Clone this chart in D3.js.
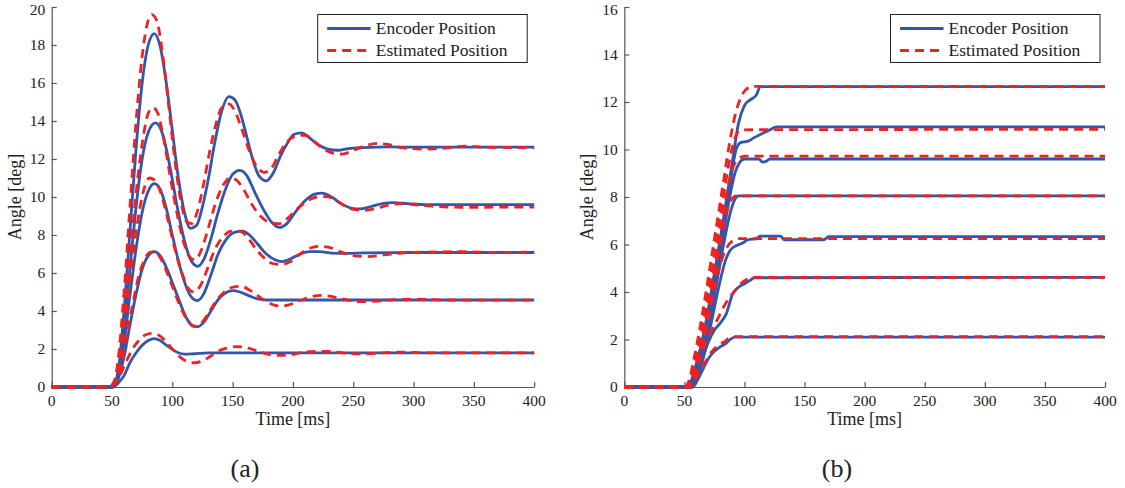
<!DOCTYPE html>
<html><head><meta charset="utf-8">
<script src="https://cdn.jsdelivr.net/npm/d3@7"></script>
<style>body{margin:0;background:#fff}svg{display:block}</style>
</head><body><svg id="c" width="1125" height="488" font-family="'Liberation Serif','Times New Roman','DejaVu Serif',serif"></svg>
<script>
// ---------- DATA (time in ms, angle in deg) ----------
const legendLabels = ["Encoder Position", "Estimated Position"];
const panelLabels = ["(a)", "(b)"];
const xTicks = [0,50,100,150,200,250,300,350,400];
const yTicksA = [0,2,4,6,8,10,12,14,16,18,20];
const yTicksB = [0,2,4,6,8,10,12,14,16];

// Panel (a) encoder
const encA1 = [[0,0],[50,0],[55,0.8],[60,4.0],[65,8.3],[70,12.6],[75,16.0],[80,18.0],[85,18.6],[90,17.9],[95,16.0],[100,13.5],[105,11.0],[110,9.2],[115,8.35],[120,8.5],[125,9.5],[130,11.0],[135,12.8],[140,14.3],[147,15.28],[152,15.1],[157,14.3],[162,13.1],[167,11.9],[172,11.1],[178,10.85],[184,11.3],[190,12.2],[196,12.9],[201,13.3],[207,13.38],[214,13.1],[221,12.75],[229,12.52],[237,12.46],[246,12.55],[258,12.6],[280,12.64],[300,12.62],[400,12.62]];
const encA2 = [[0,0],[50,0],[55,0.6],[60,3.0],[65,6.3],[70,9.5],[75,12.0],[80,13.4],[86,13.9],[92,13.3],[98,11.6],[104,9.5],[110,7.7],[116,6.6],[121,6.35],[126,6.7],[132,7.8],[138,9.2],[144,10.4],[150,11.2],[156,11.4],[162,11.1],[168,10.3],[175,9.4],[182,8.7],[189,8.4],[195,8.6],[202,9.2],[210,9.8],[218,10.15],[224,10.2],[232,10.0],[240,9.65],[248,9.42],[255,9.37],[265,9.5],[275,9.67],[283,9.7],[295,9.65],[310,9.6],[400,9.6]];
const encA3 = [[0,0],[50,0],[55,0.5],[60,2.3],[65,4.9],[70,7.3],[75,9.2],[80,10.3],[85,10.7],[90,10.4],[95,9.4],[100,8.0],[106,6.4],[112,5.2],[117,4.65],[121,4.55],[126,4.9],[132,5.9],[138,7.0],[145,7.8],[152,8.15],[158,8.2],[164,8.0],[171,7.5],[178,7.0],[185,6.7],[191,6.6],[198,6.75],[206,7.0],[214,7.12],[222,7.12],[232,7.05],[245,7.03],[260,7.06],[300,7.08],[400,7.08]];
const encA4 = [[0,0],[50,0],[55,0.4],[60,1.6],[65,3.3],[70,4.9],[75,6.2],[80,6.9],[85,7.12],[90,6.9],[95,6.3],[100,5.5],[106,4.5],[112,3.6],[117,3.2],[121,3.17],[126,3.4],[132,4.0],[138,4.6],[144,4.95],[150,5.07],[156,5.0],[163,4.82],[170,4.65],[178,4.58],[400,4.58]];
const encA5 = [[0,0],[51,0],[55,0.2],[60,0.6],[65,1.3],[70,1.8],[75,2.2],[80,2.45],[85,2.55],[90,2.45],[95,2.2],[100,1.98],[105,1.8],[110,1.73],[118,1.75],[130,1.8],[400,1.8]];
// Panel (a) estimated
const estA1 = [[0,0],[48,0],[52,0.3],[55,1.4],[60,5.0],[65,9.6],[70,14.0],[75,17.4],[80,19.3],[83,19.6],[87,19.3],[92,17.5],[97,14.8],[102,12.0],[107,9.8],[112,8.7],[116,8.6],[121,9.3],[126,10.7],[131,12.4],[136,13.8],[141,14.7],[147,14.9],[152,14.5],[158,13.5],[164,12.4],[170,11.6],[176,11.3],[182,11.5],[188,12.2],[195,12.9],[202,13.2],[210,13.25],[218,12.9],[226,12.5],[234,12.3],[241,12.26],[250,12.45],[260,12.7],[270,12.82],[280,12.75],[292,12.58],[310,12.52],[330,12.6],[342,12.68],[360,12.62],[400,12.6]];
const estA2 = [[0,0],[48,0],[52,0.3],[56,1.5],[61,4.3],[66,7.6],[71,10.8],[76,13.2],[80,14.4],[84,14.7],[88,14.4],[93,13.0],[99,10.8],[105,8.8],[110,7.5],[115,6.8],[119,6.7],[124,7.2],[130,8.4],[136,9.7],[142,10.6],[148,11.0],[153,10.9],[159,10.4],[166,9.6],[173,9.0],[181,8.65],[189,8.6],[196,8.9],[204,9.4],[212,9.8],[220,10.0],[228,10.02],[236,9.8],[244,9.5],[252,9.33],[260,9.3],[270,9.42],[280,9.58],[290,9.65],[300,9.6],[315,9.52],[340,9.46],[400,9.47]];
const estA3 = [[0,0],[48,0],[52,0.3],[56,1.3],[61,3.6],[66,6.2],[71,8.6],[76,10.3],[81,11.0],[85,10.9],[90,10.3],[96,8.9],[102,7.3],[108,6.0],[113,5.2],[118,5.0],[123,5.3],[129,6.2],[135,7.2],[142,7.9],[149,8.2],[156,8.2],[162,7.9],[169,7.3],[176,6.8],[183,6.5],[191,6.45],[198,6.6],[206,7.0],[214,7.3],[222,7.4],[230,7.35],[240,7.1],[250,6.92],[262,6.86],[275,6.95],[290,7.05],[310,7.1],[340,7.12],[370,7.08],[400,7.1]];
const estA4 = [[0,0],[48,0],[52,0.2],[57,1.0],[62,2.6],[67,4.3],[72,5.8],[77,6.7],[82,7.1],[86,7.1],[91,6.7],[97,5.8],[103,4.8],[109,3.9],[114,3.4],[119,3.2],[124,3.35],[130,3.9],[136,4.5],[143,5.0],[150,5.25],[157,5.3],[164,5.1],[171,4.8],[178,4.5],[185,4.3],[191,4.26],[198,4.35],[206,4.55],[215,4.75],[225,4.82],[235,4.72],[245,4.58],[256,4.49],[270,4.52],[285,4.6],[300,4.62],[330,4.58],[400,4.57]];
const estA5 = [[0,0],[48,0],[53,0.2],[58,0.8],[63,1.5],[68,2.1],[73,2.5],[78,2.75],[83,2.82],[88,2.75],[94,2.45],[100,2.0],[106,1.6],[112,1.35],[118,1.27],[124,1.35],[130,1.55],[137,1.85],[145,2.05],[153,2.12],[161,2.08],[170,1.9],[180,1.72],[189,1.67],[198,1.7],[208,1.82],[220,1.88],[230,1.88],[245,1.77],[260,1.74],[275,1.8],[290,1.84],[310,1.8],[400,1.8]];

// Panel (b) encoder
const encB1 = [[0,0],[52,0],[56,0.3],[60,1.0],[65,2.0],[70,3.3],[75,4.8],[80,6.3],[85,7.9],[90,9.5],[95,11.1],[100,11.85],[105,12.1],[110,12.3],[113,12.65],[400,12.65]];
const encB2 = [[0,0],[53,0],[57,0.3],[61,1.0],[66,2.0],[71,3.3],[76,4.8],[81,6.3],[86,7.9],[90,9.2],[93,10.0],[97,10.3],[103,10.35],[108,10.5],[114,10.65],[120,10.8],[127,10.95],[400,10.95]];
const encB3 = [[0,0],[54,0],[58,0.3],[62,1.0],[67,2.0],[72,3.3],[77,4.8],[82,6.3],[87,7.8],[92,9.0],[96,9.45],[100,9.6],[112,9.6],[115,9.47],[118,9.5],[121,9.6],[400,9.6]];
const encB4 = [[0,0],[55,0],[59,0.3],[63,1.0],[68,2.0],[73,3.3],[78,4.7],[83,6.1],[88,7.3],[92,7.9],[95,8.05],[400,8.05]];
const encB5 = [[0,0],[56,0],[60,0.3],[64,0.9],[69,1.9],[74,3.1],[79,4.3],[84,5.3],[88,5.75],[93,5.95],[98,6.05],[103,6.2],[110,6.25],[113,6.35],[130,6.35],[133,6.2],[166,6.2],[170,6.33],[400,6.33]];
const encB6 = [[0,0],[57,0],[60,0.4],[65,1.2],[70,1.9],[75,2.4],[80,2.7],[85,3.1],[90,3.9],[95,4.2],[100,4.35],[105,4.5],[108,4.6],[400,4.62]];
const encB7 = [[0,0],[57,0],[61,0.3],[65,0.7],[70,1.2],[75,1.5],[80,1.7],[85,1.85],[88,2.0],[92,2.1],[400,2.1]];
// Panel (b) estimated
const estB1 = [[0,0],[50,0],[54,0.3],[58,1.2],[63,2.5],[68,4.0],[73,5.6],[78,7.2],[83,8.8],[88,10.4],[93,11.6],[98,12.3],[103,12.6],[106,12.66],[400,12.66]];
const estB2 = [[0,0],[51,0],[55,0.3],[59,1.1],[64,2.3],[69,3.7],[74,5.3],[79,6.9],[84,8.5],[89,9.9],[93,10.6],[97,10.83],[400,10.85]];
const estB3 = [[0,0],[52,0],[56,0.3],[60,1.0],[65,2.2],[70,3.6],[75,5.1],[80,6.6],[85,8.1],[90,9.2],[95,9.6],[100,9.72],[400,9.72]];
const estB4 = [[0,0],[53,0],[57,0.3],[61,1.0],[66,2.2],[71,3.6],[76,5.0],[81,6.4],[86,7.5],[90,7.95],[93,8.05],[400,8.05]];
const estB5 = [[0,0],[54,0],[58,0.3],[62,1.0],[67,2.1],[72,3.4],[77,4.6],[82,5.5],[87,6.0],[92,6.2],[96,6.25],[400,6.25]];
const estB6 = [[0,0],[53,0],[58,0.5],[63,1.2],[68,1.9],[73,2.4],[78,2.9],[83,3.4],[88,3.8],[93,4.1],[98,4.4],[103,4.55],[108,4.62],[400,4.62]];
const estB7 = [[0,0],[55,0],[59,0.3],[63,0.7],[68,1.1],[73,1.5],[78,1.75],[83,1.9],[87,2.05],[90,2.12],[400,2.12]];

// ---------- DRAW ----------
const BLUE = "#3355aa", RED = "#ee2222", AX = "#555", FONT = "'Liberation Serif','Times New Roman','DejaVu Serif',serif";
const svg = d3.select("#c");

function panel(cfg){
  const x = d3.scaleLinear().domain([0,400]).range([cfg.x0, cfg.x1]);
  const y = d3.scaleLinear().domain([0,cfg.ymax]).range([cfg.y0, cfg.y1]);
  const g = svg.append("g").attr("font-family",FONT);
  const xa = g.append("g").attr("transform",`translate(0,${cfg.y0})`)
    .call(d3.axisTop(x).tickValues(xTicks).tickSize(5).tickSizeOuter(0).tickFormat(""));
  const ya = g.append("g").attr("transform",`translate(${cfg.x0},0)`)
    .call(d3.axisRight(y).tickValues(cfg.yTicks).tickSize(5).tickSizeOuter(0).tickFormat(""));
  [xa,ya].forEach(a=>{a.selectAll("path,line").attr("stroke",AX).attr("stroke-width",1.2);});
  const T = (sel)=>sel.attr("font-family",FONT).attr("fill","#222");
  T(g.selectAll(".xl").data(xTicks).join("text").attr("x",d=>x(d)).attr("y",cfg.y0+19)
    .attr("text-anchor","middle").attr("font-size",15.5).text(d=>d));
  T(g.selectAll(".yl").data(cfg.yTicks).join("text").attr("x",cfg.x0-6.5).attr("y",d=>Math.max(y(d)+5,14.5))
    .attr("text-anchor","end").attr("font-size",15.5).text(d=>d));
  T(g.append("text").attr("x",(cfg.x0+cfg.x1)/2).attr("y",cfg.y0+38).attr("text-anchor","middle")
    .attr("font-size",18).text("Time [ms]"));
  T(g.append("text").attr("transform",`translate(${cfg.x0-31},${(cfg.y0+cfg.y1)/2}) rotate(-90)`)
    .attr("text-anchor","middle").attr("font-size",18).text("Angle [deg]"));
  T(g.append("text").attr("x",cfg.labX).attr("y",477).attr("text-anchor","middle")
    .attr("font-size",26).text(cfg.label));
  const line = d3.line().x(d=>x(d[0])).y(d=>y(d[1])).curve(d3.curveMonotoneX);
  cfg.enc.forEach(s=>g.append("path").attr("d",line(s)).attr("fill","none")
    .attr("stroke",BLUE).attr("stroke-width",2.8).attr("stroke-linejoin","round"));
  cfg.est.forEach(s=>g.append("path").attr("d",line(s)).attr("fill","none")
    .attr("stroke",RED).attr("stroke-width",2.8).attr("stroke-dasharray","9,6"));
  const lg = g.append("g");
  lg.append("rect").attr("x",cfg.lx).attr("y",14.5).attr("width",209.5).attr("height",48)
    .attr("fill","#fff").attr("stroke","#222").attr("stroke-width",1);
  [[BLUE,null,28.5],[RED,"9,6",50.5]].forEach((s,i)=>{
    lg.append("line").attr("x1",cfg.lx+9.5).attr("x2",cfg.lx+53).attr("y1",s[2]).attr("y2",s[2])
      .attr("stroke",s[0]).attr("stroke-width",2.8).attr("stroke-dasharray",s[1]);
    T(lg.append("text").attr("x",cfg.lx+58).attr("y",s[2]+5.5).attr("font-size",17.5).text(legendLabels[i]));
  });
}

panel({x0:51.7,x1:534.2,y0:387,y1:7,ymax:20,yTicks:yTicksA,label:panelLabels[0],labX:245,lx:317.7,
  enc:[encA1,encA2,encA3,encA4,encA5],est:[estA1,estA2,estA3,estA4,estA5]});
panel({x0:624.3,x1:1105,y0:387,y1:7,ymax:16,yTicks:yTicksB,label:panelLabels[1],labX:837,lx:890.5,
  enc:[encB1,encB2,encB3,encB4,encB5,encB6,encB7],est:[estB1,estB2,estB3,estB4,estB5,estB6,estB7]});
</script></body></html>
